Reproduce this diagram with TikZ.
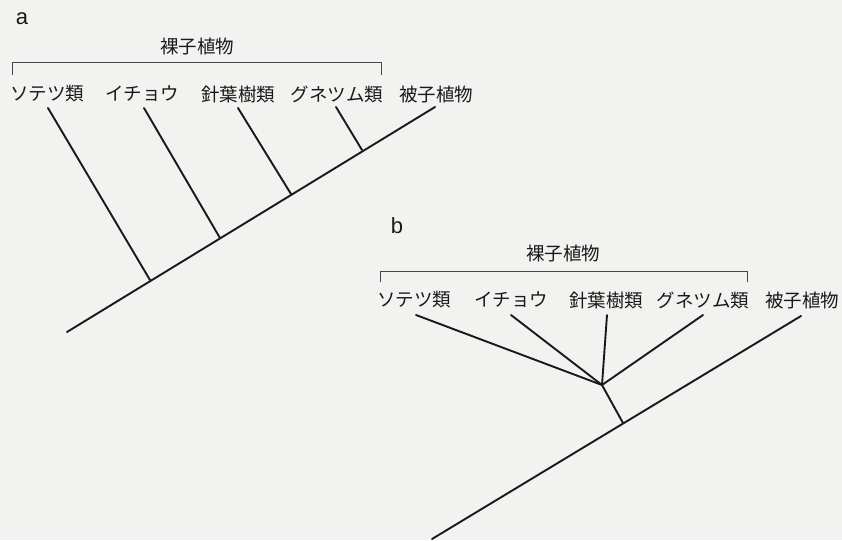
\documentclass[tikz,border=0pt]{standalone}
\usepackage{fontspec}
\newfontfamily\jp{Noto Sans CJK JP}
\newfontfamily\lat{Liberation Sans}
\definecolor{paper}{RGB}{242,242,240}
\definecolor{ink}{RGB}{25,25,25}
\begin{document}
\begin{tikzpicture}[x=1pt,y=-1pt,
  lbl/.style={inner sep=0pt, font=\jp\fontsize{18.5}{18.5}\selectfont, text=ink},
  pan/.style={inner sep=0pt, font=\lat\fontsize{22}{22}\selectfont, text=ink},
  branch/.style={draw=ink, line width=1.9pt, line cap=round},
  brk/.style={draw=ink!80, line width=1pt}]
\fill[paper] (0,0) rectangle (842,540);
\useasboundingbox (0,0) rectangle (842,540);

% ---------- panel a ----------
\node[pan] (la) at (22,19) {a};
\node[lbl] (ga) at (197,47) {裸子植物};
\coordinate (aBL) at (12,75); \coordinate (aTL) at (12,63);
\coordinate (aTR) at (381,63); \coordinate (aBR) at (381,75);
\draw[brk] (aBL) -- (aTL) -- (aTR) -- (aBR);
\node[lbl] (a1) at (47,94) {ソテツ類};
\node[lbl] (a2) at (142,94) {イチョウ};
\node[lbl] (a3) at (238,94) {針葉樹類};
\node[lbl] (a4) at (337,94) {グネツム類};
\node[lbl] (a5) at (436,94) {被子植物};
\coordinate (aRoot) at (67,332);
\coordinate (aTop) at (435,107);
\coordinate (aJ1) at (150,280);
\coordinate (aJ2) at (220,238);
\coordinate (aJ3) at (291,194);
\coordinate (aJ4) at (362,150);
\coordinate (aE1) at (48,108);
\coordinate (aE2) at (144,108);
\coordinate (aE3) at (238,108);
\coordinate (aE4) at (336,107);
\draw[branch] (aRoot) -- (aTop);
\draw[branch] (aE1) -- (aJ1);
\draw[branch] (aE2) -- (aJ2);
\draw[branch] (aE3) -- (aJ3);
\draw[branch] (aE4) -- (aJ4);

% ---------- panel b ----------
\node[pan] (lb) at (397,226) {b};
\node[lbl] (gb) at (563,254) {裸子植物};
\coordinate (bBL) at (380,282); \coordinate (bTL) at (380,271);
\coordinate (bTR) at (747,271); \coordinate (bBR) at (747,282);
\draw[brk] (bBL) -- (bTL) -- (bTR) -- (bBR);
\node[lbl] (b1) at (414,300) {ソテツ類};
\node[lbl] (b2) at (511,300) {イチョウ};
\node[lbl] (b3) at (606,300) {針葉樹類};
\node[lbl] (b4) at (703,300) {グネツム類};
\node[lbl] (b5) at (802,300) {被子植物};
\coordinate (bRoot) at (432,539);
\coordinate (bTop) at (801,316);
\coordinate (bJ) at (623,423);
\coordinate (bP) at (602,385);
\coordinate (bE1) at (416,315);
\coordinate (bE2) at (511,315);
\coordinate (bE3) at (607,315);
\coordinate (bE4) at (703,315);
\draw[branch] (bRoot) -- (bTop);
\draw[branch] (bP) -- (bJ);
\draw[branch] (bE1) -- (bP);
\draw[branch] (bE2) -- (bP);
\draw[branch] (bE3) -- (bP);
\draw[branch] (bE4) -- (bP);
\end{tikzpicture}
\end{document}
